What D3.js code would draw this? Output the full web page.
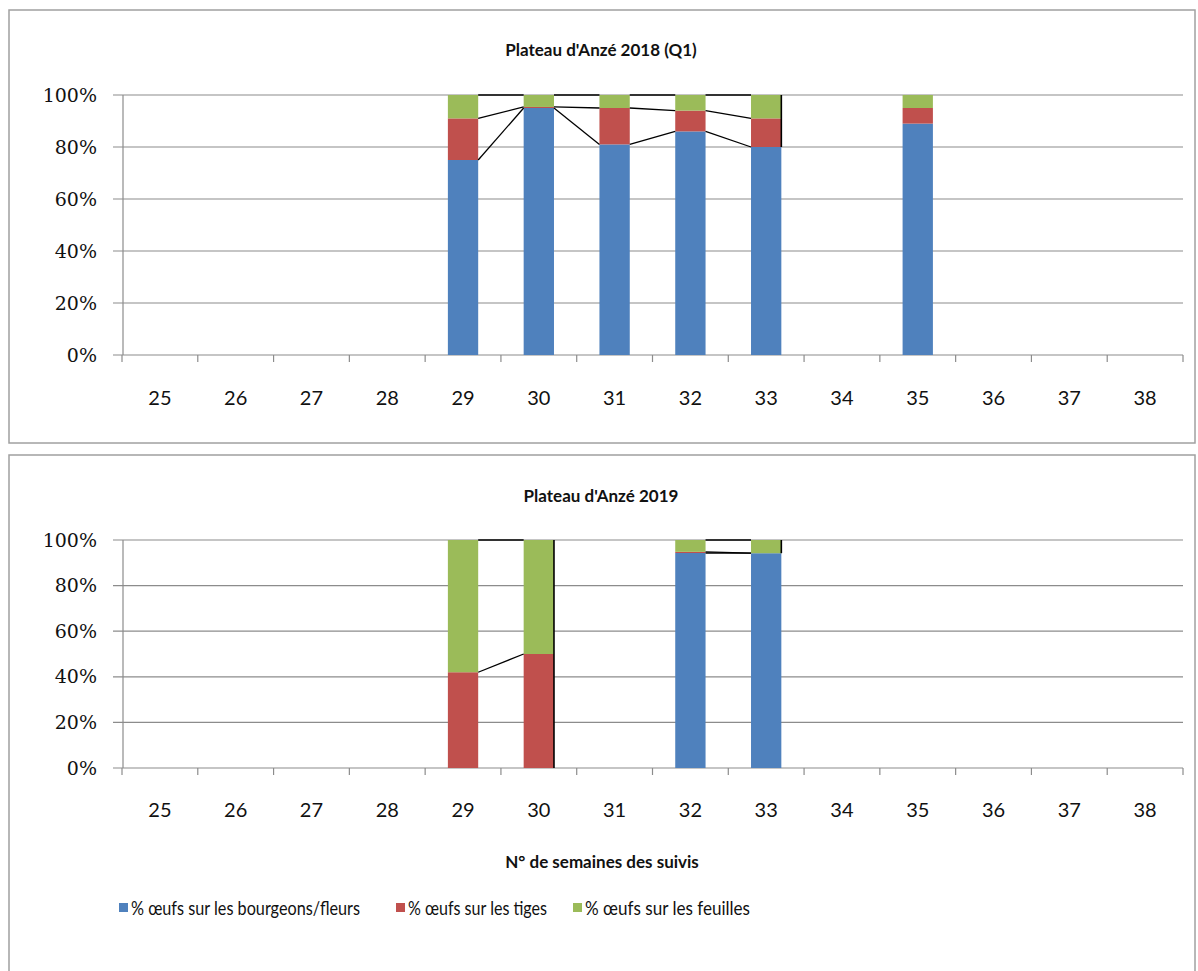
<!DOCTYPE html>
<html><head><meta charset="utf-8">
<script src="https://cdn.jsdelivr.net/npm/d3@7"></script>
<style>body{margin:0;background:#fff}svg{display:block}</style></head>
<body><svg id="c" width="1198" height="971"></svg>
<script>
const weeks = [25,26,27,28,29,30,31,32,33,34,35,36,37,38];
const yTicks = [0,20,40,60,80,100];
const seriesNames = ["% œufs sur les bourgeons/fleurs","% œufs sur les tiges","% œufs sur les feuilles"];
const seriesColors = ["#4F81BD","#C0504D","#9BBB59"];
const bud2018  = [null,null,null,null,75,95,81,86,80,null,89,null,null,null];
const stem2018 = [null,null,null,null,16,0.4,14,8,11,null,6,null,null,null];
const leaf2018 = [null,null,null,null,9,4.6,5,6,9,null,5,null,null,null];
const bud2019  = [null,null,null,null,0,0,null,94.3,94.2,null,null,null,null,null];
const stem2019 = [null,null,null,null,42,50,null,0.5,0,null,null,null,null,null];
const leaf2019 = [null,null,null,null,58,50,null,5.2,5.8,null,null,null,null,null];

const svg = d3.select("#c");
const L = 122, R = 1183;
const cell = d3.scaleBand().domain(weeks).range([L,R]).padding(0);
const x = d3.scaleBand().domain(weeks).range([L,R]).paddingInner(0.6).paddingOuter(0.3);
const bw = x.bandwidth();
const FONT = "Lato, 'Open Sans', sans-serif";

function panel(cfg){
  const g = svg.append("g");
  g.append("rect").attr("x",cfg.fx).attr("y",cfg.fy).attr("width",cfg.fw).attr("height",cfg.fh)
    .attr("fill","#fff").attr("stroke","#a0a0a0").attr("stroke-width",1.5);
  g.append("text").attr("x",601).attr("y",cfg.titleY).attr("dy","0.35em").attr("text-anchor","middle")
    .attr("font-family",FONT).attr("font-weight","bold").attr("font-size",17)
    .attr("fill","#111").text(cfg.title);
  const y = d3.scaleLinear().domain([0,100]).range([cfg.bottom,cfg.top]);
  yTicks.forEach(t=>{
    g.append("line").attr("x1",113).attr("x2",R).attr("y1",y(t)).attr("y2",y(t))
      .attr("stroke","#8c8c8c").attr("stroke-width",1.2);
    g.append("text").attr("x",97).attr("y",y(t)).attr("dy","0.35em").attr("text-anchor","end")
      .attr("font-family","'DejaVu Serif',serif").attr("font-size",19).attr("fill","#111").text(t+"%");
  });
  g.append("line").attr("x1",123).attr("x2",123).attr("y1",cfg.top).attr("y2",cfg.bottom)
    .attr("stroke","#8c8c8c").attr("stroke-width",1.2);
  weeks.forEach(w=>{
    g.append("line").attr("x1",cell(w)).attr("x2",cell(w)).attr("y1",cfg.bottom).attr("y2",cfg.bottom+7)
      .attr("stroke","#8c8c8c").attr("stroke-width",1.2);
  });
  g.append("line").attr("x1",R).attr("x2",R).attr("y1",cfg.bottom).attr("y2",cfg.bottom+7)
      .attr("stroke","#8c8c8c").attr("stroke-width",1.2);
  weeks.forEach(w=>{
    g.append("text").attr("x",cell(w)+cell.bandwidth()/2).attr("y",cfg.labelY).attr("dy","0.35em")
      .attr("text-anchor","middle").attr("font-family",FONT).attr("font-size",20)
      .attr("fill","#111").text(w);
  });
  const data = weeks.map((w,i)=>({w, v:[cfg.s[0][i],cfg.s[1][i],cfg.s[2][i]]}));
  data.forEach(d=>{
    if(d.v[0]===null) return;
    const tot = d.v[0]+d.v[1]+d.v[2];
    let c = 0;
    d.cum = [];
    d.v.forEach((v,k)=>{
      const a = c/tot*100, b = (c+v)/tot*100;
      c += v;
      d.cum.push(b);
      g.append("rect").attr("x",x(d.w)).attr("width",bw).attr("y",y(b)).attr("height",Math.max(0,y(a)-y(b)))
        .attr("fill",seriesColors[k]);
    });
  });
  data.forEach((d,i)=>{
    if(!d.cum) return;
    const n = data[i+1];
    const xr = x(d.w)+bw;
    if(n && n.cum){
      d.cum.forEach((c,k)=>{
        if(c===0 && n.cum[k]===0) return;
        g.append("line").attr("x1",xr).attr("y1",y(c)).attr("x2",x(n.w)).attr("y2",y(n.cum[k]))
          .attr("stroke","#000").attr("stroke-width",1.3);
      });
    } else if(i>0 && data[i-1].cum){
      g.append("line").attr("x1",xr).attr("x2",xr).attr("y1",y(d.cum[0])).attr("y2",y(100))
        .attr("stroke","#000").attr("stroke-width",1.6);
    }
  });
  return y;
}

panel({fx:9,fy:10,fw:1186,fh:433,title:"Plateau d'Anzé 2018 (Q1)",titleY:50,top:95,bottom:355,labelY:398,
  s:[bud2018,stem2018,leaf2018]});
panel({fx:9,fy:455,fw:1186,fh:530,title:"Plateau d'Anzé 2019",titleY:496,top:540,bottom:768,labelY:810,
  s:[bud2019,stem2019,leaf2019]});

svg.append("text").attr("x",602).attr("y",862).attr("dy","0.35em").attr("text-anchor","middle")
  .attr("font-family",FONT).attr("font-weight","bold").attr("font-size",17)
  .attr("fill","#111").text("N° de semaines des suivis");

const legX = [119,396,573];
const legW = [229,139,165];
seriesNames.forEach((n,k)=>{
  svg.append("rect").attr("x",legX[k]).attr("y",903).attr("width",9).attr("height",9).attr("fill",seriesColors[k]);
  svg.append("text").attr("x",legX[k]+12).attr("y",908).attr("dy","0.35em")
    .attr("font-family",FONT).attr("font-size",19).attr("textLength",legW[k]).attr("lengthAdjust","spacingAndGlyphs")
    .attr("fill","#111").text(n);
});
</script></body></html>
